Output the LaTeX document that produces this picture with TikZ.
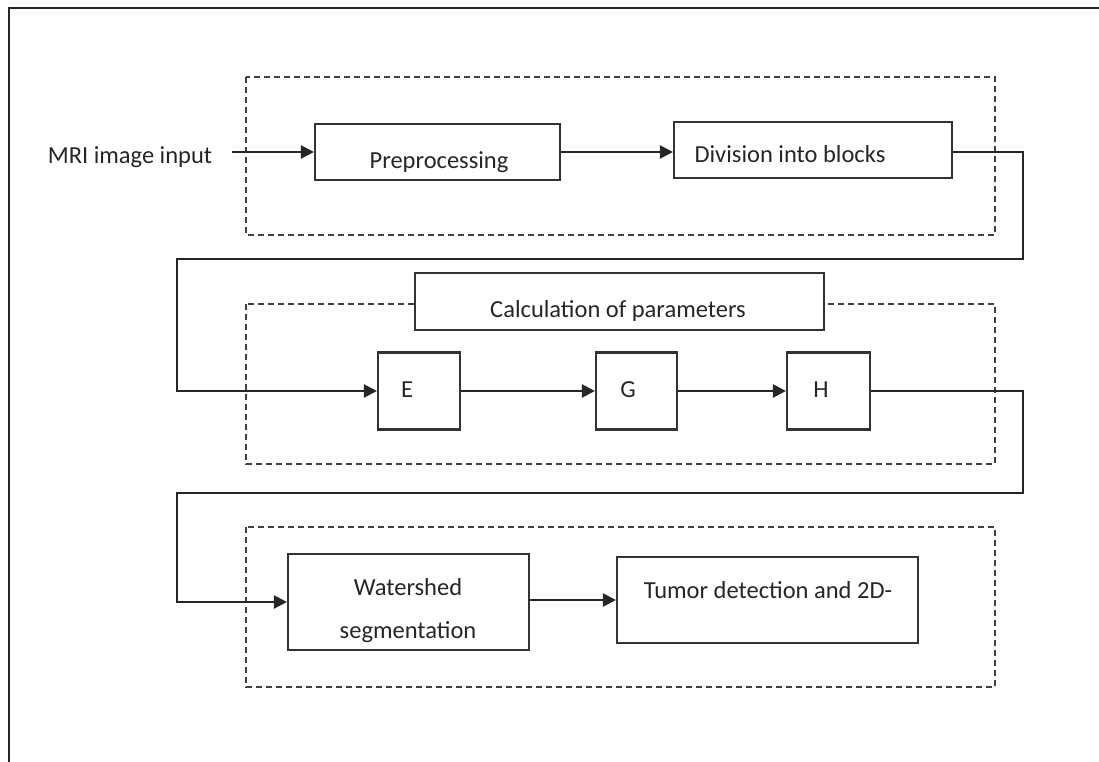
\documentclass[tikz,border=0pt]{standalone}
\usepackage{fontspec}
\setmainfont{Carlito}
\usetikzlibrary{arrows.meta}
\tikzset{
  block/.style={draw=black!80, line width=2.1pt, fill=white, inner sep=0pt},
  group/.style={draw=black!75, line width=2pt, dash pattern=on 6pt off 4pt},
  lbl/.style={text=black!85, font=\fontsize{24.5}{43}\selectfont, anchor=base, inner sep=0pt},
  flow/.style={draw=black!85, line width=2.2pt},
  arr/.style={flow, -{Triangle[length=13pt,width=13pt]}}
}
\begin{document}
\begin{tikzpicture}[x=1pt,y=-1pt]
    \useasboundingbox (0,0) rectangle (1099,762);
    \fill[white] (0,0) rectangle (1099,762);
    \draw[black!85, line width=2.8pt] (1099,8) -- (9,8) -- (9,762);

    % dashed groups
    \draw[group] (246,77) rectangle (995,235);
    \draw[group] (246,304) rectangle (995,464);
    \draw[group] (246,527) rectangle (995,687);

    % blocks
    \node[block, minimum width=245pt, minimum height=56pt] (pre) at (437.5,152) {};
    \node[block, minimum width=278pt, minimum height=56pt] (div) at (813,150) {};
    \node[block, minimum width=409pt, minimum height=57pt] (calc) at (619.5,301.5) {};
    \node[block, minimum width=82pt, minimum height=77pt] (E) at (419,391) {};
    \node[block, minimum width=81pt, minimum height=77pt] (G) at (636.5,391) {};
    \node[block, minimum width=83pt, minimum height=77pt] (H) at (828.5,391) {};
    \node[block, minimum width=241pt, minimum height=96pt] (ws) at (408.5,602) {};
    \node[block, minimum width=301pt, minimum height=86pt] (tum) at (767.5,600) {};

    % texts
    \node[lbl] (tmri) at (130,164) {MRI image input};
    \node[lbl] (tpre) at (439,168) {Preprocessing};
    \node[lbl] (tdiv) at (790,163) {Division into blocks};
    \node[lbl] (tcalc) at (618,317) {Calculation of parameters};
    \node[lbl] (tE) at (407,397) {E};
    \node[lbl] (tG) at (628,397) {G};
    \node[lbl] (tH) at (821,397) {H};
    \node[lbl] (tws1) at (408,595) {Watershed};
    \node[lbl] (tws2) at (408,638) {segmentation};
    \node[lbl] (ttum) at (768,598) {Tumor detection and 2D-};

    % connectors
    \coordinate (in) at (232,152);
    \coordinate (r1) at (1023,152);
    \coordinate (r2) at (1023,259);
    \coordinate (l1) at (177,259);
    \coordinate (l2) at (177,391);
    \coordinate (r3) at (1023,391);
    \coordinate (r4) at (1023,493);
    \coordinate (l3) at (177,493);
    \coordinate (l4) at (177,602);

    \draw[arr] (in) -- (pre.west);
    \draw[arr] (pre.east) -- (pre.east -| div.west);
    \draw[arr] (pre.east -| div.east) -- (r1) -- (r2) -- (l1) -- (l2) -- (E.west);
    \draw[arr] (E.east) -- (G.west);
    \draw[arr] (G.east) -- (H.west);
    \draw[arr] (H.east) -- (r3) -- (r4) -- (l3) -- (l4) -- (ws.west);
    \draw[arr] (ws.east |- tum.west) -- (tum.west);
\end{tikzpicture}
\end{document}
